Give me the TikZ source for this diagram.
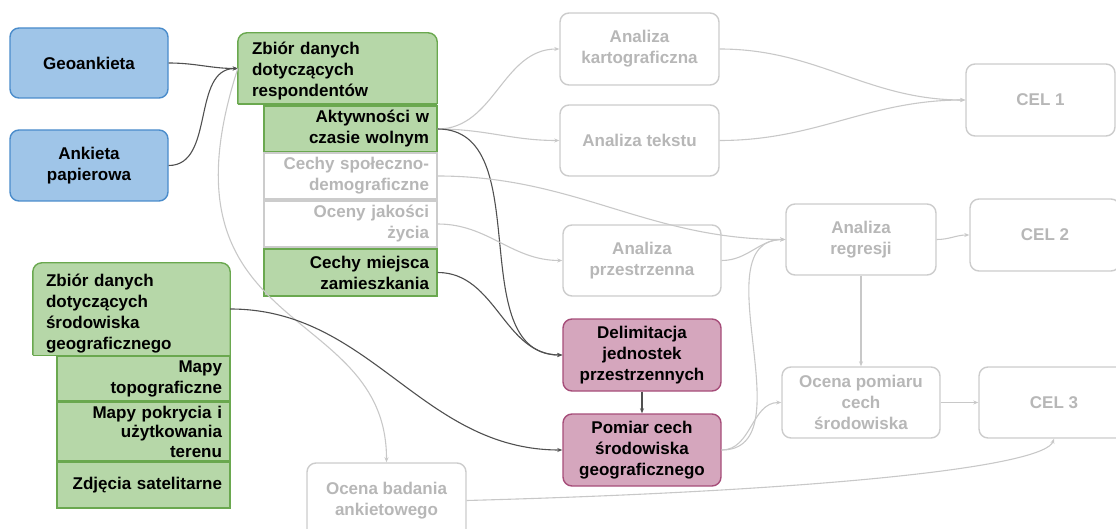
\documentclass[tikz,border=0pt]{standalone}
\usepackage{fontspec}
\setmainfont{Liberation Sans}
\usetikzlibrary{arrows.meta,backgrounds}
\definecolor{bluef}{HTML}{9FC5E8}
\definecolor{blued}{HTML}{4A8CCB}
\definecolor{greenf}{HTML}{B6D7A8}
\definecolor{greend}{HTML}{6AA84F}
\definecolor{pinkf}{HTML}{D5A6BD}
\definecolor{pinkd}{HTML}{A64D79}
\definecolor{greyd}{HTML}{CCCCCC}
\definecolor{greyt}{HTML}{B7B7B7}
\definecolor{edgedk}{HTML}{505050}
\definecolor{edgelt}{HTML}{C8C8C8}
\begin{document}
\begin{tikzpicture}[x=1pt,y=-1pt,
  every node/.style={font=\fontsize{17}{21}\selectfont\bfseries, inner xsep=8pt, inner ysep=2pt},
  box/.style={rounded corners=9pt, line width=1.4pt, align=center},
  bluebox/.style={box, fill=bluef, draw=blued},
  pinkbox/.style={box, fill=pinkf, draw=pinkd},
  greybox/.style={box, fill=white, draw=greyd, text=greyt},
  subg/.style={line width=1.4pt, fill=greenf, draw=greend, align=right, text width=157pt, minimum width=173pt},
  subw/.style={line width=1.4pt, fill=white, draw=greyd, text=greyt, align=right, text width=157pt, minimum width=173pt},
  hdrnode/.style={align=left, inner xsep=14pt, text width=171pt},
  hdrshape/.style={fill=greenf, draw=greend, line width=1.4pt, rounded corners=9pt},
  dk/.style={draw=edgedk, line width=1.1pt, -{Stealth[length=5pt,width=4pt]}},
  lt/.style={draw=edgelt, line width=1.1pt, -{Stealth[length=5pt,width=4pt]}}
]
\useasboundingbox (0,0) rectangle (1116,529);
\clip (0,0) rectangle (1116,529);

% left sources
\node[bluebox, minimum width=158pt, minimum height=70pt] (geo) at (89,63) {Geoankieta};
\node[bluebox, minimum width=158pt, minimum height=71pt] (ank) at (89,165.5) {Ankieta\\papierowa};

% respondents group (text set 3pt lower than the box centre)
\node[hdrnode, minimum width=199pt, minimum height=71pt] (resp) at (337.5,71.5) {Zbiór danych\\dotyczących\\respondentów};
\node[subg, minimum height=46pt] (akt) at (350.5,129) {Aktywności w\\czasie wolnym};
\node[subw, minimum height=46pt] (csd) at (350.5,176) {Cechy społeczno-\\demograficzne};
\node[subw, minimum height=46pt] (ojz) at (350.5,224) {Oceny jakości\\życia};
\node[subg, minimum height=47pt] (cmz) at (350.5,272.5) {Cechy miejsca\\zamieszkania};

% environment group (text set 5pt lower than the box centre)
\node[hdrnode, inner xsep=13pt, minimum width=197pt, minimum height=92pt] (srod) at (131.5,314) {Zbiór danych\\dotyczących\\środowiska\\geograficznego};
\node[subg, minimum height=45pt] (mtopo) at (143.5,378.5) {Mapy\\topograficzne};
\node[subg, minimum height=59pt, inner ysep=0pt, font=\fontsize{17}{19.5}\selectfont\bfseries] (mpok) at (143.5,431.5) {Mapy pokrycia i\\użytkowania\\terenu};
\node[subg, minimum height=46pt] (zdj) at (143.5,485) {Zdjęcia satelitarne};

\begin{scope}[on background layer]
  \filldraw[hdrshape] ([yshift=3pt]resp.south west) -- ([yshift=3pt]resp.north west) -- ([yshift=3pt]resp.north east) -- ([yshift=3pt]resp.south east);
  \draw[greend, line width=1.4pt] ([yshift=3pt]resp.south west) -- ([yshift=3pt]resp.south east);
  \filldraw[hdrshape] ([yshift=5pt]srod.south west) -- ([yshift=5pt]srod.north west) -- ([yshift=5pt]srod.north east) -- ([yshift=5pt]srod.south east);
  \draw[greend, line width=1.4pt] ([yshift=5pt]srod.south west) -- ([yshift=5pt]srod.south east);
\end{scope}

% middle column
\node[greybox, minimum width=159pt, minimum height=72pt] (kart) at (639.5,49) {Analiza\\kartograficzna};
\node[greybox, minimum width=159pt, minimum height=71pt] (tekst) at (639.5,140.5) {Analiza tekstu};
\node[greybox, minimum width=158pt, minimum height=71pt] (przes) at (642,260.5) {Analiza\\przestrzenna};
\node[pinkbox, minimum width=158pt, minimum height=72pt] (delim) at (642,355) {Delimitacja\\jednostek\\przestrzennych};
\node[pinkbox, minimum width=158pt, minimum height=72pt] (pom) at (642,450) {Pomiar cech\\środowiska\\geograficznego};
\node[greybox, minimum width=159pt, minimum height=75pt] (ocb) at (386.5,500.5) {Ocena badania\\ankietowego};

% right part
\node[greybox, minimum width=150pt, minimum height=71pt] (regr) at (861,239.5) {Analiza\\regresji};
\node[greybox, minimum width=158pt, minimum height=71pt] (ocp) at (861,402.5) {Ocena pomiaru\\cech\\środowiska};
\node[greybox, minimum width=149pt, minimum height=72pt] (cel1) at (1040.5,100) {CEL 1};
\node[greybox, minimum width=150pt, minimum height=72pt] (cel2) at (1045,235) {CEL 2};
\node[greybox, minimum width=150pt, minimum height=71pt] (cel3) at (1054,402.5) {CEL 3};

% connectors
\draw[dk] (geo.east) to[out=0,in=180] ([yshift=3pt]resp.west);
\draw[dk] (ank.east) to[out=0,in=180] ([yshift=3pt]resp.west);
\draw[lt] ([yshift=3pt]resp.west) .. controls (150,340) and (387,300) .. (ocb.north);

\draw[lt] (akt.east) to[out=0,in=180] (kart.west);
\draw[lt] (akt.east) to[out=0,in=180] (tekst.west);
\draw[dk] (akt.east) to[out=0,in=180] (delim.west);
\draw[lt] (csd.east) to[out=0,in=180] (regr.west);
\draw[lt] (ojz.east) to[out=0,in=180] (przes.west);
\draw[dk] (cmz.east) to[out=0,in=180] (delim.west);
\draw[dk] ([yshift=5pt]srod.east) to[out=0,in=180] (pom.west);
\draw[dk] (delim.south) -- (pom.north);

\draw[lt] (kart.east) to[out=0,in=180] (cel1.west);
\draw[lt] (tekst.east) to[out=0,in=180] (cel1.west);
\draw[lt] (przes.east) to[out=0,in=180] (regr.west);
\draw[lt] (pom.east) to[out=0,in=180] (regr.west);
\draw[lt] (pom.east) to[out=0,in=180] (ocp.west);
\draw[lt] (regr.south) -- (ocp.north);
\draw[lt] (regr.east) to[out=0,in=180] (cel2.west);
\draw[lt] (ocp.east) -- (cel3.west);
\draw[lt] (ocb.east) .. controls (850,490) and (1045,465) .. (cel3.south);
\end{tikzpicture}
\end{document}
